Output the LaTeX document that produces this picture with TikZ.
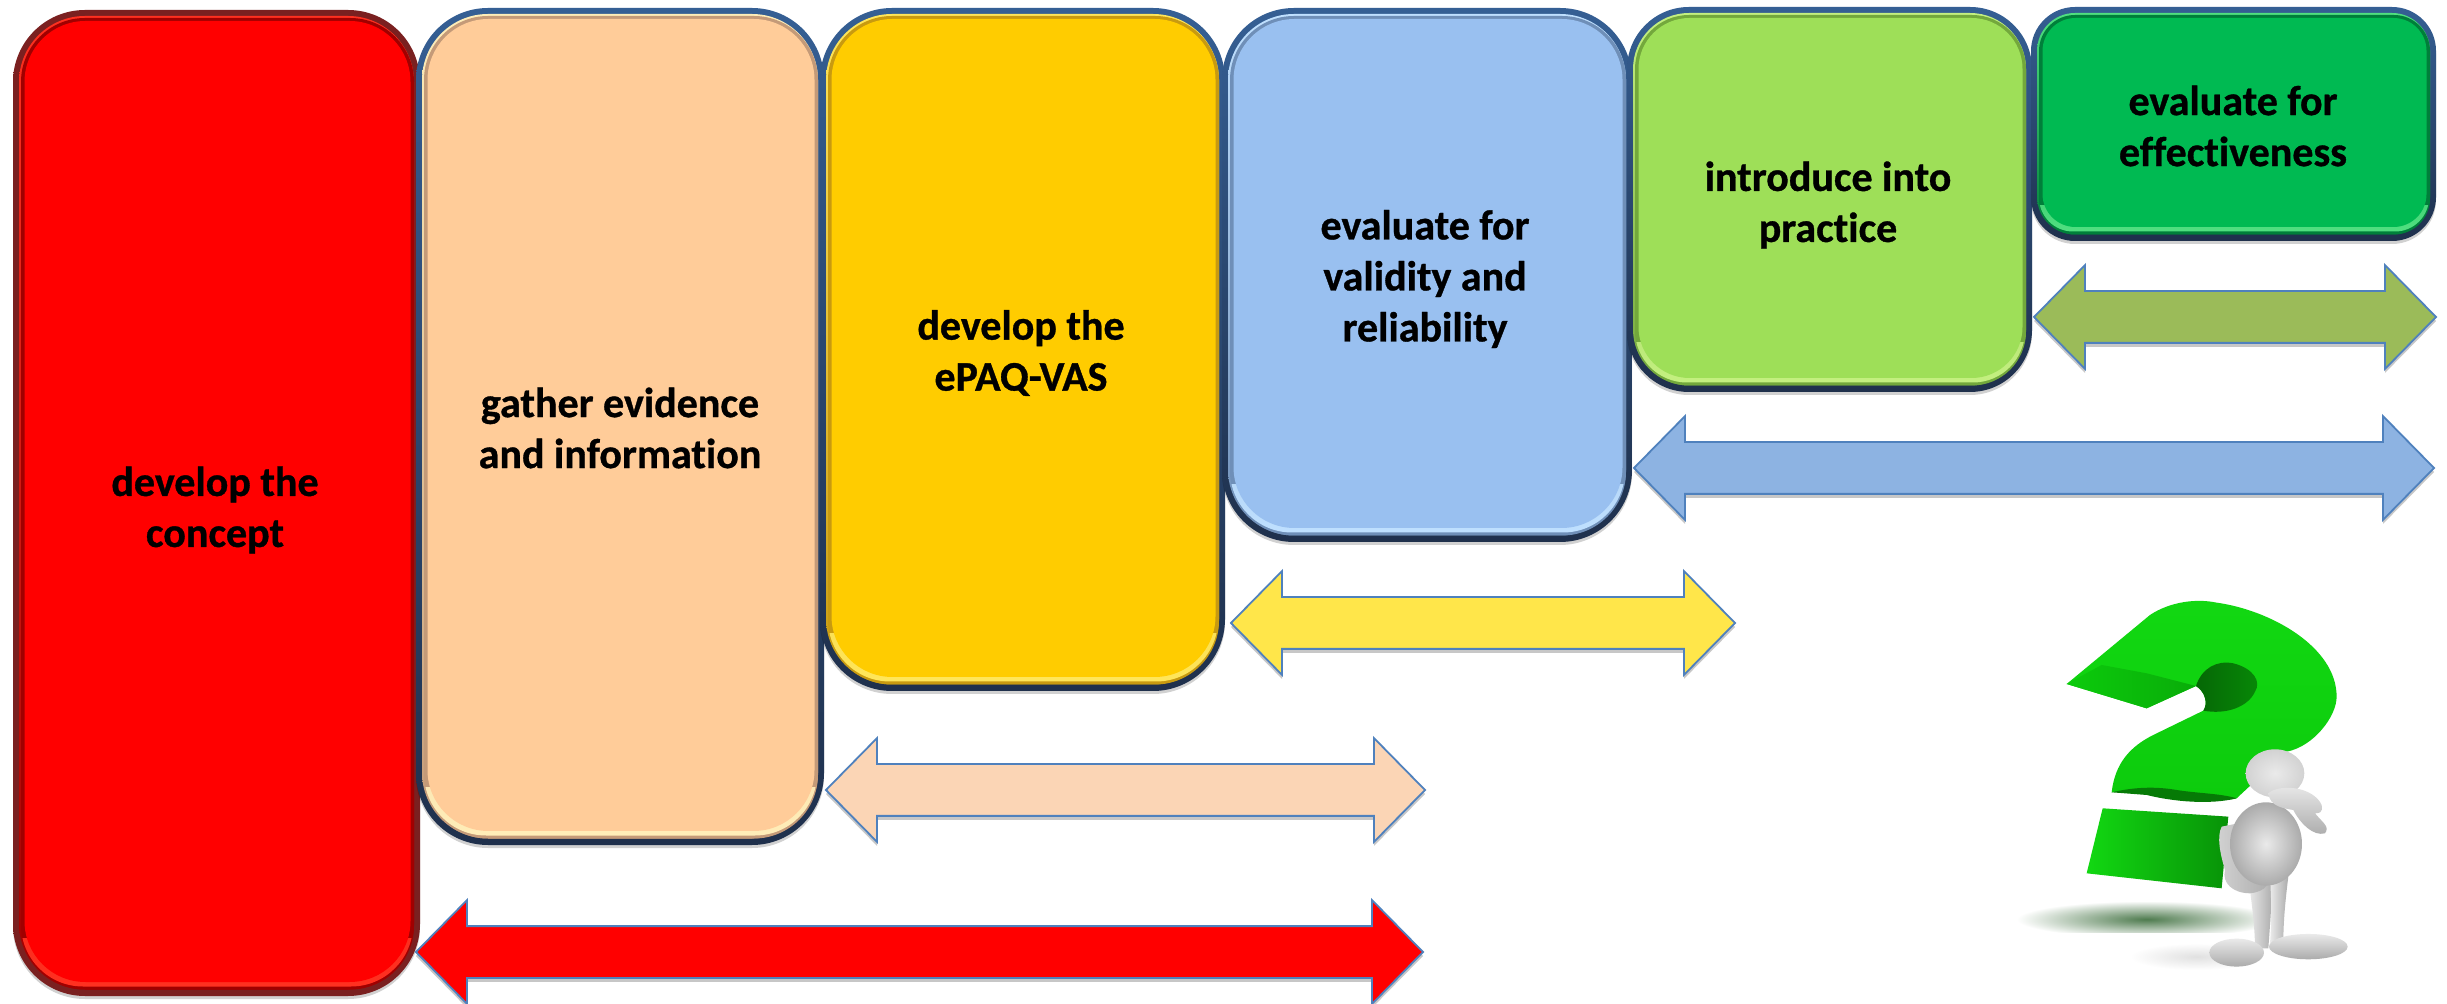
\documentclass[tikz,border=0pt]{standalone}
\usepackage{fontspec}
\setmainfont{Carlito}[Ligatures=NoCommon,BoldFeatures={FakeBold=0.8}]
\usetikzlibrary{shapes.arrows,shadows}
\definecolor{cRed}{HTML}{FF0000}\definecolor{cRedD}{HTML}{A00000}\definecolor{cRedP}{HTML}{FF3020}\definecolor{cRedO}{HTML}{7A2020}
\definecolor{cPeach}{HTML}{FFCC99}\definecolor{cPeachD}{HTML}{C49A78}\definecolor{cPeachP}{HTML}{FFEDB8}
\definecolor{cYel}{HTML}{FFCC00}\definecolor{cYelD}{HTML}{C89A10}\definecolor{cYelP}{HTML}{FFE65A}
\definecolor{cBlue}{HTML}{99C0F0}\definecolor{cBlueD}{HTML}{6F8FB8}\definecolor{cBlueP}{HTML}{BFE0FF}
\definecolor{cLime}{HTML}{9EDF58}\definecolor{cLimeD}{HTML}{73A83C}\definecolor{cLimeP}{HTML}{C4F080}
\definecolor{cGreen}{HTML}{00BA52}\definecolor{cGreenD}{HTML}{007F3A}\definecolor{cGreenP}{HTML}{50E080}
\definecolor{navyT}{HTML}{355F94}\definecolor{navyB}{HTML}{1F304C}
\definecolor{arrowEdge}{HTML}{4F81BD}
\definecolor{aPeach}{HTML}{FBD5B5}\definecolor{aYellow}{HTML}{FFE64A}\definecolor{aBlue}{HTML}{8DB3E2}\definecolor{aOlive}{HTML}{9BBB59}
\definecolor{qGreen}{HTML}{0CCB0C}\definecolor{qLight}{HTML}{12D812}\definecolor{qDark}{HTML}{067A06}\definecolor{qMid}{HTML}{09AC09}
\definecolor{manG}{HTML}{D2D2D2}\definecolor{manL}{HTML}{EAEAEA}\definecolor{manD}{HTML}{ABABAB}
\tikzset{
  stagetext/.style={font=\fontsize{21}{25.5}\selectfont\bfseries,align=center,text=black,inner sep=0pt},
  blockarrow/.style={double arrow,draw=arrowEdge,line width=.9pt,inner sep=12.5pt,outer sep=0pt,
    double arrow head extend=13pt,double arrow tip angle=91,
    drop shadow={shadow xshift=0pt,shadow yshift=-2pt,opacity=.22,fill=black}},
  stagecore/.style={inner sep=0pt,outer sep=0pt,draw=none},
}
\newcommand{\stagebox}[9]{\def\stA{#1}\def\stB{#2}\def\stC{#3}\def\stD{#4}\def\stE{#5}\def\stF{#6}\def\stG{#7}\def\stH{#8}\def\stI{#9}\stageboxii}
\newcommand{\stageboxii}[2]{%
  \fill[black,opacity=.18,rounded corners=\stF*.5pt] (\stB,\stC+3) rectangle (\stD,\stE+3);
  \path[top color=#1,bottom color=#2,rounded corners=\stF*.5pt] (\stB,\stC) rectangle (\stD,\stE);
  \path[top color=\stI,bottom color=\stH,rounded corners=(\stF-6)*.5pt] (\stB+6,\stC+6) rectangle (\stD-6,\stE-6.5);
  \fill[\stH,rounded corners=(\stF-8)*.5pt] (\stB+8,\stC+8) rectangle (\stD-6,\stE-6.5);
  \begin{scope}
    \clip (\stB,\stE-\stF*0.8) rectangle (\stD,\stE);
    \path[top color=\stH,bottom color=\stI,rounded corners=(\stF-10)*.5pt] (\stB+8,\stC+8) rectangle (\stD-7,\stE-9.5);
  \end{scope}
  \pgfmathsetmacro{\stW}{(\stD-\stB-21)*.5}
  \pgfmathsetmacro{\stT}{(\stE-\stC-25)*.5}
  \node[stagecore,fill=\stG,rounded corners=(\stF-11)*.5pt,minimum width=\stW pt,minimum height=\stT pt] (\stA) at ({(\stB+\stD)/2+1},{(\stC+\stE)/2-1.5}) {};
}
\begin{document}
\begin{tikzpicture}[x=.5pt,y=-.5pt]
\useasboundingbox (0,0) rectangle (2447,1004);
\fill[white] (0,0) rectangle (2447,1004);

\stagebox{concept}{13}{10}{420}{996}{72}{cRed}{cRedD}{cRedP}{cRedO}{cRedO}
\stagebox{evidence}{416}{8}{824}{845}{72}{cPeach}{cPeachD}{cPeachP}{navyT}{navyB}
\stagebox{epaq}{820}{8}{1225}{691}{72}{cYel}{cYelD}{cYelP}{navyT}{navyB}
\stagebox{validity}{1222}{8}{1632}{542}{72}{cBlue}{cBlueD}{cBlueP}{navyT}{navyB}
\stagebox{practice}{1627}{7}{2032}{392}{62}{cLime}{cLimeD}{cLimeP}{navyT}{navyB}
\stagebox{effect}{2031}{7}{2436}{241}{44}{cGreen}{cGreenD}{cGreenP}{navyT}{navyB}

\node[stagetext] (concepttext) at (215,510) {develop the\\concept};
\node[stagetext] (evidencetext) at (620,428) {gather evidence\\and information};
\node[stagetext] (epaqtext) at (1021,353) {develop the\\ePAQ-VAS};
\node[stagetext] (validitytext) at (1425,279) {evaluate for\\validity and\\reliability};
\node[stagetext] (practicetext) at (1828,205) {introduce into\\practice};
\node[stagetext] (effecttext) at (2233,126) {evaluate for\\effectiveness};

\node[blockarrow,fill=cRed,minimum height=503.5pt,minimum width=51pt] (arrowRed) at (919.5,952) {};
\node[blockarrow,fill=aPeach,minimum height=299.5pt,minimum width=51pt] (arrowPeach) at (1125.5,790) {};
\node[blockarrow,fill=aYellow,minimum height=252pt,minimum width=51pt] (arrowYellow) at (1483,623) {};
\node[blockarrow,fill=aBlue,minimum height=400pt,minimum width=51pt] (arrowBlue) at (2034,468) {};
\node[blockarrow,fill=aOlive,minimum height=201pt,minimum width=51pt] (arrowOlive) at (2235,317) {};

% question mark figure, in coordinates of a 3x crop
\begin{scope}[shift={(1950,560)},scale=.3333]
  \begin{scope}
    \clip (100,1000) rectangle (1000,1118);
    \shade[inner color=qDark!55!black!70,outer color=white] (590,1078) ellipse (390 and 55);
  \end{scope}
  \shade[inner color=black!12,outer color=white] (740,1190) ellipse (200 and 40);
  % hook of the mark
  \shade[top color=qLight,bottom color=qGreen]
    (350,372) -- (600,165) .. controls (660,125) and (740,115) .. (800,128)
    .. controls (960,150) and (1160,260) .. (1160,410)
    .. controls (1160,470) and (1090,560) .. (1010,575)
    -- (860,715) .. controls (780,735) and (670,690) .. (590,685)
    -- (485,697) .. controls (495,610) and (540,560) .. (610,525)
    -- (760,452) .. controls (775,430) and (765,395) .. (738,378)
    -- (590,445) -- cycle;
  % inner throat and top facet
  \shade[left color=qDark!85!black,right color=qMid!80!black]
    (738,378) .. controls (755,325) and (800,300) .. (850,310)
    .. controls (910,325) and (935,365) .. (915,395)
    .. controls (895,440) and (830,465) .. (760,452)
    .. controls (775,430) and (765,395) .. (738,378) -- cycle;
  \shade[left color=qGreen,right color=qMid]
    (350,372) -- (455,315) -- (590,340) -- (738,378) -- (590,445) -- cycle;
  \fill[qDark] (485,697) .. controls (560,680) and (620,680) .. (680,690)
    .. controls (740,700) and (810,700) .. (860,715)
    .. controls (780,735) and (670,725) .. (590,705) -- cycle;
  % dot
  \shade[left color=qLight,right color=qMid!85!black]
    (458,745) -- (835,770) -- (815,985) -- (410,940) -- cycle;
  % figure
  \shade[left color=manL,right color=manD] (895,950) .. controls (905,1030) and (915,1100) .. (915,1165)
    -- (955,1165) .. controls (960,1100) and (965,1020) .. (970,950) -- cycle;
  \shade[left color=manL,right color=manD] (960,950) .. controls (965,1030) and (965,1090) .. (960,1150)
    -- (1000,1150) .. controls (1000,1090) and (1005,1030) .. (1015,950) -- cycle;
  \shade[top color=manL,bottom color=manD] (1075,1160) ellipse (118 and 38);
  \shade[top color=manL,bottom color=manD] (860,1178) ellipse (82 and 42);
  \shade[left color=manG,right color=manD] (815,800) .. controls (800,830) and (810,880) .. (825,930)
    .. controls (815,970) and (850,1000) .. (900,1000)
    .. controls (950,995) and (970,965) .. (940,935)
    .. controls (900,920) and (870,870) .. (865,790) -- cycle;
  \shade[inner color=manL,outer color=manD] (948,852) ellipse (108 and 125);
  \shade[inner color=manL,outer color=manG] (975,640) ellipse (88 and 72);
  \shade[top color=manL,bottom color=manD] (955,700) .. controls (990,670) and (1090,680) .. (1115,735)
    .. controls (1120,760) and (1105,760) .. (1095,760)
    .. controls (1120,790) and (1140,800) .. (1125,820)
    .. controls (1090,830) and (1050,790) .. (1030,750)
    .. controls (1000,745) and (960,740) .. (955,700) -- cycle;
\end{scope}
\end{tikzpicture}
\end{document}
